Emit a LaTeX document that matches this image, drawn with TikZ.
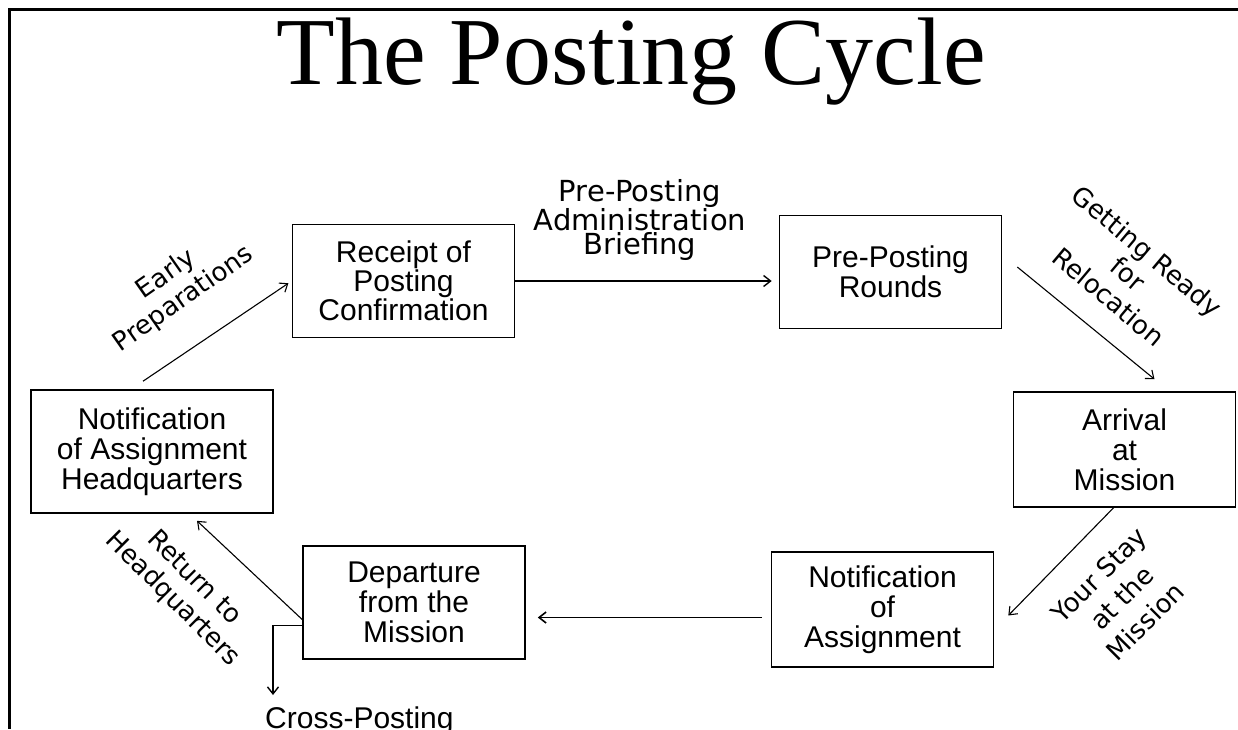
\documentclass[tikz,border=0pt]{standalone}
\usepackage{fontspec}
\usetikzlibrary{arrows.meta}
\newfontfamily\boxfont{Liberation Sans}
\newfontfamily\stepfont{DejaVu Sans}
\newfontfamily\headfont{Liberation Serif}

\begin{document}
\begin{tikzpicture}
[
    x=1pt, y=-1pt,
    >={Straight Barb[length=7pt, width=11pt]},
    stage/.style={draw, line width=1.6pt, minimum width=222pt, minimum height=113pt,
        align=center, inner sep=2pt, font=\boxfont\fontsize{30}{30}\selectfont},
    phase/.style={align=center, inner sep=0pt, font=\stepfont\fontsize{26}{30}\selectfont},
    flow/.style={->, line width=1.1pt},
]
\useasboundingbox (0,0) rectangle (1238,729);
\draw[line width=3pt] (1238,9) -- (9,9) -- (9,729);
\node (title) [anchor=base, font=\headfont\fontsize{96}{96}\selectfont] at (631,84) {The Posting Cycle};

\node (hq) [stage, minimum width=242pt, minimum height=123pt] at (152,451.5)
    {Notification\\of Assignment\\Headquarters};
\node (receipt) [stage, font=\boxfont\fontsize{30}{26}\selectfont] at (403.5,281)
    {Receipt of\\Posting\\Confirmation};
\node (rounds) [stage] at (890.5,272) {Pre-Posting\\Rounds};
\node (arrival) [stage, minimum height=115pt] at (1124.5,449.5) {Arrival\\at\\Mission};
\node (notif) [stage, minimum height=115pt] at (882.5,609.5) {Notification\\of\\Assignment};
\node (departure) [stage] at (414,602.5) {Departure\\from the\\Mission};
\node (cross) [anchor=base west, inner sep=0pt, font=\boxfont\fontsize{30}{30}\selectfont]
    at (265,728) {Cross-Posting};
\coordinate (crossin) at (273,695);

\node (early) [phase, rotate=35] at (175,287) {Early\\Preparations};
\node (admin) [phase, font=\stepfont\fontsize{29}{24}\selectfont] at (640,220)
    {Pre-Posting\\Administration\\Briefing};
\node (ready) [phase, rotate=-40] at (1128,274) {Getting Ready\\for\\Relocation};
\node (stay) [phase, rotate=45, font=\stepfont\fontsize{26}{33}\selectfont] at (1122,598)
    {Your Stay\\at the\\Mission};
\node (back) [phase, rotate=-45] at (183,589) {Return to\\Headquarters};

\draw[flow, shorten >=4pt] ([xshift=-9pt,yshift=8pt]hq.north) -- (receipt.west);
\draw[flow, line width=1.4pt, shorten >=7pt] (receipt.east) -- (receipt.east -| rounds.west);
\draw[flow] ([xshift=15pt,yshift=5pt]rounds.east) -- ([xshift=30pt,yshift=12pt]arrival.north);
\draw[flow] ([xshift=-11pt]arrival.south) -- ([xshift=14pt,yshift=-6pt]notif.east);
\draw[flow, line width=1.6pt, shorten <=9pt] ([yshift=-8pt]notif.west) -- ([xshift=12pt,yshift=-15pt]departure.east);
\draw[flow] ([yshift=-17pt]departure.west) -- ([xshift=45pt,yshift=-7pt]hq.south);
\draw[flow, line width=1.4pt] ([yshift=-23pt]departure.west) -| (crossin);
\end{tikzpicture}
\end{document}
